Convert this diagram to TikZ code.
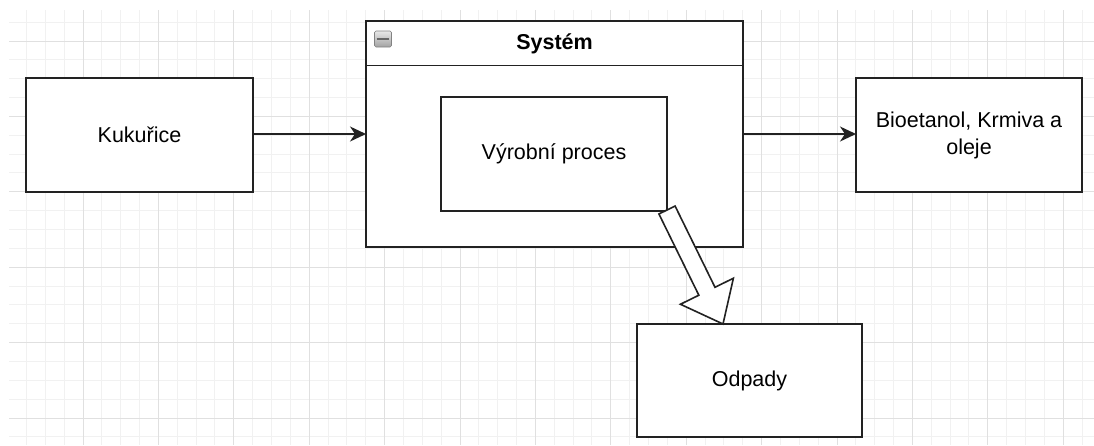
\documentclass[tikz,border=0pt]{standalone}
\usepackage{fontspec}
\setmainfont{Liberation Sans}
\usetikzlibrary{arrows.meta,calc}
\definecolor{gridminor}{HTML}{F1F1F1}
\definecolor{gridmajor}{HTML}{E0E0E0}
\definecolor{edge}{HTML}{222222}
\definecolor{iconlight}{HTML}{E8E8E8}
\definecolor{icondark}{HTML}{A2A2A2}
\tikzset{
  box/.style={draw=edge, line width=1.7pt, fill=white, inner sep=0pt, outer sep=0pt,
    align=center, font=\fontsize{21.5}{27}\selectfont},
  flow/.style={draw=edge, line width=1.6pt,
    -{Stealth[length=16pt, width=15pt, inset=5pt]}},
  gridline/.style={line width=1pt},
}
\begin{document}
\begin{tikzpicture}[x=1pt, y=-1pt]
  % canvas
  \fill[white] (0,0) rectangle (1094,445);
  \useasboundingbox (0,0) rectangle (1094,445);

  % background grid
  \begin{scope}
    \clip (9,10) rectangle (1094,445);
    \foreach \k in {0,...,58}
      \draw[gridline, gridminor] ({7.6+18.85*\k},10) -- ++(0,435);
    \foreach \k in {-1,...,22}
      \draw[gridline, gridminor] (9,{41+18.85*\k}) -- ++(1085,0);
    \foreach \k in {0,...,14}
      \draw[gridline, gridmajor] ({7.6+75.4*\k},10) -- ++(0,435);
    \foreach \k in {0,...,5}
      \draw[gridline, gridmajor] (9,{41+75.4*\k}) -- ++(1085,0);
  \end{scope}

  % container with header
  \node[box, minimum width=377pt, minimum height=226pt] (sys) at (554.5,134) {};
  \draw[draw=edge, line width=1.7pt]
    ($(sys.north west)+(0,44.5)$) -- ($(sys.north east)+(0,44.5)$);
  \node[font=\fontsize{21.5}{26}\selectfont\bfseries, inner sep=0pt] (systitle)
    at ($(sys.north)+(0,23)$) {Systém};
  \node[draw=icondark!80!black, line width=0.6pt, top color=iconlight, bottom color=icondark,
        rounded corners=1.5pt, minimum width=17pt, minimum height=16pt, inner sep=0pt]
    (fold) at ($(sys.north west)+(17,18)$) {};
  \draw[line width=2.4pt, color=black!60]
    ($(fold.west)+(2.5,0)$) -- ($(fold.east)+(-2.5,0)$);

  % blocks
  \node[box, minimum width=227pt, minimum height=114pt] (kuk) at (139.5,135) {Kukuřice};
  \node[box, minimum width=226pt, minimum height=114pt] (vyr) at (554,154) {Výrobní proces};
  \node[box, minimum width=226pt, minimum height=114pt] (bio) at (969,135)
    {Bioetanol, Krmiva a\\oleje};
  \node[box, minimum width=225pt, minimum height=113pt] (odp) at (749.5,380.5) {Odpady};

  % flows
  \draw[flow] (kuk.east |- 0,134) -- (sys.west |- 0,134);
  \draw[flow] (sys.east |- 0,134) -- (bio.west |- 0,134);

  % hollow block arrow towards the waste block
  \coordinate (wt) at ($(vyr.south east)+(0,-1)$);
  \coordinate (wp) at ($(odp.north west)+(86,0)$);
  \coordinate (wh) at ($(wp)!36.5pt!(wt)$);
  \draw[draw=edge, line width=1.6pt, fill=white, line join=miter]
    ($(wt)!9pt!90:(wp)$) -- ($(wh)!9pt!-90:(wt)$) -- ($(wh)!29.5pt!-90:(wt)$) -- (wp)
    -- ($(wh)!29.5pt!90:(wt)$) -- ($(wh)!9pt!90:(wt)$) -- ($(wt)!9pt!-90:(wp)$) -- cycle;
\end{tikzpicture}
\end{document}
